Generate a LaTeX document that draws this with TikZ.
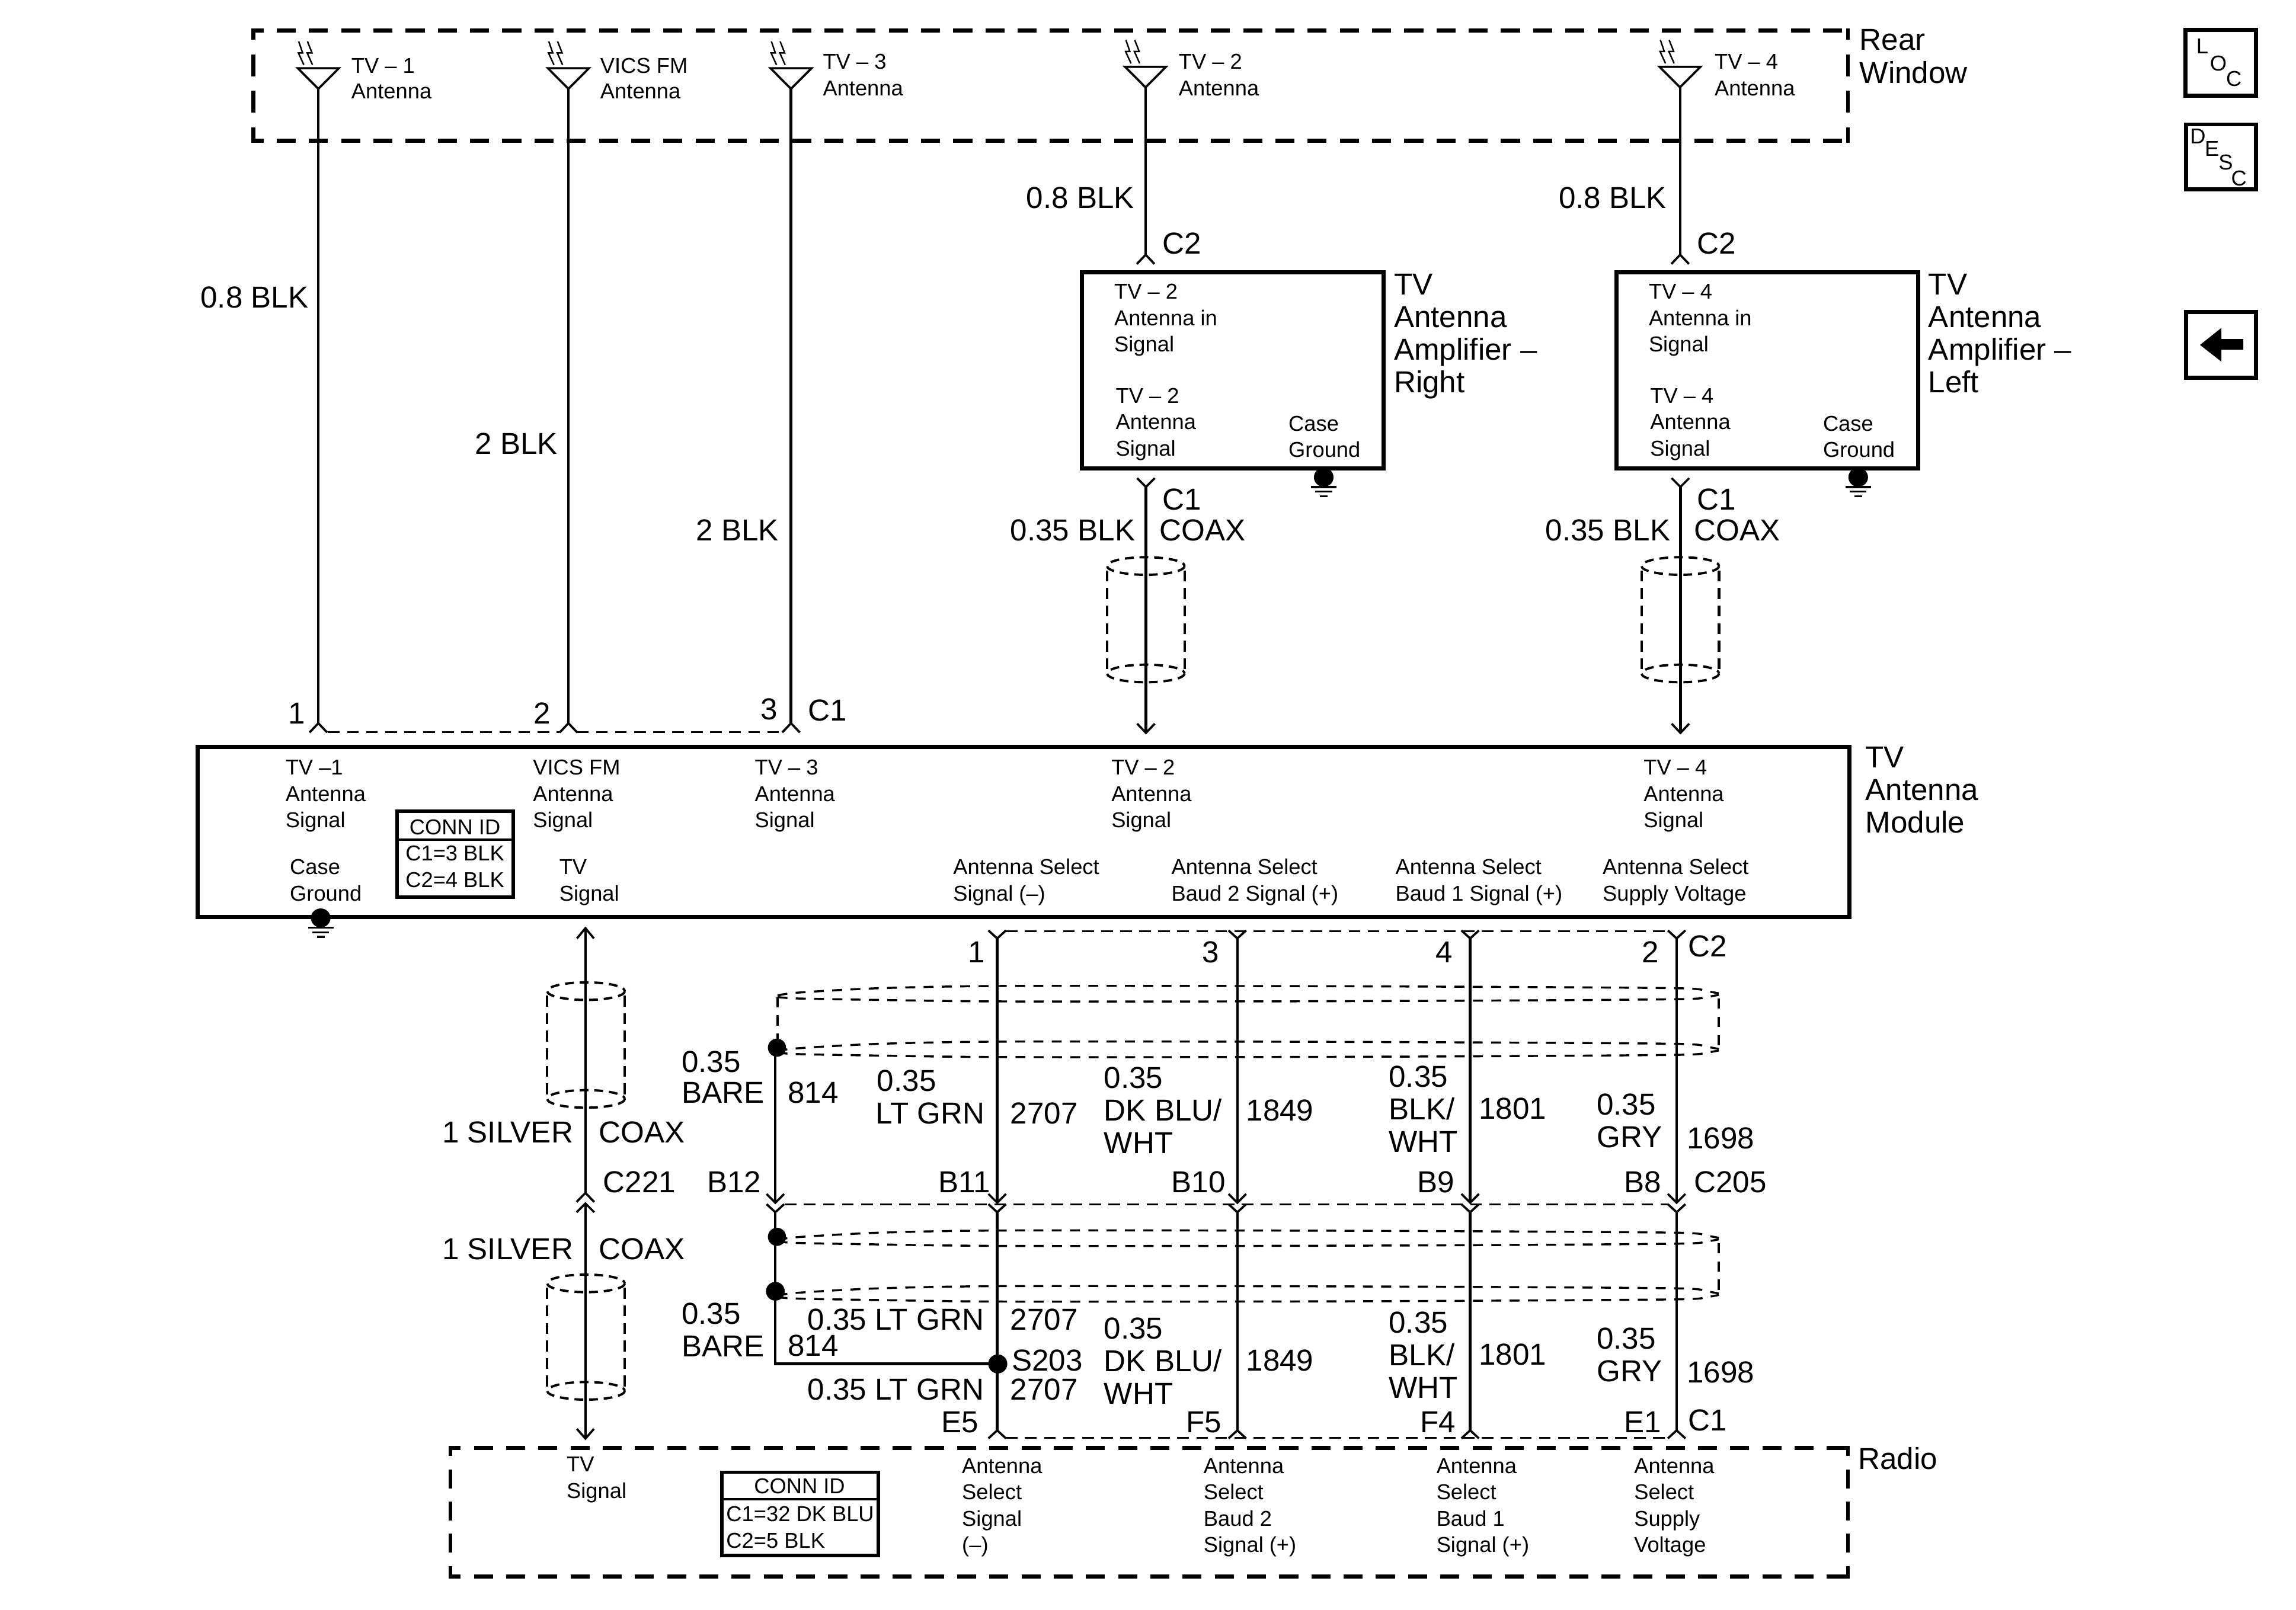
\documentclass[tikz,border=0pt]{standalone}
\usepackage{fontspec}
\setmainfont{Liberation Sans}
\newcommand\lblsmall{\fontsize{14.7}{18}\selectfont}
\newcommand\lbllarge{\fontsize{20.7}{23}\selectfont}
\newcounter{lblc}
% small text lines: x, y of first line centre, lines separated by commas
\newcommand\smalls[3]{\foreach \tx [count=\i from 0] in {#3}{\stepcounter{lblc}\node[smalltext] (s\arabic{lblc}) at (#1,{#2+5.3+\i*18}) {\tx};}}
\newcommand\larges[3]{\foreach \tx [count=\i from 0] in {#3}{\stepcounter{lblc}\node[largetext] (l\arabic{lblc}) at (#1,{#2+7.4+\i*22.3}) {\tx};}}
% open chevron: x, apex y, ends y
\newcommand\chev[3]{\draw[chevron] (#1-6,#3) -- (#1,#2) -- (#1+6,#3);}
% named wire between two named coordinates
\newcommand\wire[4]{\coordinate (#1a) at (#2,#3); \coordinate (#1b) at (#2,#4); \draw[wireline] (#1a) -- (#1b);}
% box node from corners
\newcommand\boxn[6]{\node[#1,minimum width={(#5-#3)*1pt},minimum height={(#6-#4)*1pt}] (#2) at ({(#3+#5)/2},{(#4+#6)/2}) {};}
\newcommand\gnd[2]{\fill (#1,#2) ellipse [x radius=6.7,y radius=6.5];
  \draw[gndbar] (#1-8.7,#2+6.7) -- (#1+8.7,#2+6.7);
  \draw[gndbar] (#1-5.7,#2+9.8) -- (#1+5.7,#2+9.8);
  \draw[gndbar] (#1-2.6,#2+12.9) -- (#1+2.6,#2+12.9);}
% antenna: x, y offset
\newcommand\antenna[2]{\begin{scope}[shift={(#1,#2)}]
  \draw[antline,line join=miter] (-14,46.6) -- (14,46.6) -- (0,60.7) -- cycle;
  \draw[boltline] (-13.4,28.3) -- (-10.7,36.2) -- (-13.6,36.2) -- (-9.9,44.3);
  \draw[boltline] (-7.4,28.3) -- (-4.3,36.2) -- (-7.6,36.2) -- (-4,44.3);
  \end{scope}}
% coax shield: x centre, y of top ellipse, y of bottom ellipse
\newcommand\coax[3]{\draw[shieldoval] (#1,#2) ellipse [x radius=26.5,y radius=6];
  \draw[shieldoval] (#1,#3) ellipse [x radius=26.5,y radius=6];
  \draw[shieldside] (#1-26.5,#2+3) -- (#1-26.5,#3-3);
  \draw[shieldside] (#1+26.5,#2+3) -- (#1+26.5,#3-3);}
% twisted pair shield lens
\newcommand\lens[1]{\begin{scope}[shift={(0,#1)}]
  \draw[pairline] plot[smooth] coordinates {(531,680) (545,678) (600,675) (681,673.5) (850,673.5) (1004,674) (1145,675) (1165,677) (1173.8,678.5)};
  \draw[pairline] plot[smooth] coordinates {(531,681) (545,682) (600,683) (681,684) (850,684) (1004,683.5) (1145,682.5) (1165,681) (1173.8,679.5)};
  \end{scope}}
\begin{document}
\begin{tikzpicture}[x=1pt,y=-1pt,
  smalltext/.style={anchor=base west,inner sep=0pt,outer sep=0pt,font=\lblsmall},
  largetext/.style={anchor=base west,inner sep=0pt,outer sep=0pt,font=\lbllarge},
  wireline/.style={line width=1.8pt},
  chevron/.style={line width=1.5pt,line join=miter},
  antline/.style={line width=1.5pt},
  boltline/.style={line width=1pt},
  gndbar/.style={line width=1.3pt},
  heavybox/.style={draw,line width=2.8pt,inner sep=0pt,outer sep=0pt},
  connbox/.style={draw,line width=2.4pt,inner sep=0pt,outer sep=0pt},
  bigdash/.style={line width=2.8pt,dash pattern=on 13pt off 9pt,dash phase=6pt},
  shieldoval/.style={line width=1.6pt,dash pattern=on 6pt off 4pt},
  shieldside/.style={line width=1.7pt,dash pattern=on 7.5pt off 4.5pt},
  pairline/.style={line width=1.4pt,dash pattern=on 6.8pt off 5.7pt},
  thindash/.style={line width=1.3pt,dash pattern=on 8pt off 5pt},
]
\useasboundingbox (0,0) rectangle (1568,1099.7);

% --- Rear Window dashed box
\draw[bigdash] (173,21) -- (1262,21);
\draw[bigdash] (173,96) -- (1262,96);
\draw[line width=2.8pt,dash pattern=on 15pt off 10pt,dash phase=7.5pt] (173,19.6) -- (173,97.4);
\draw[line width=2.8pt,dash pattern=on 15pt off 10pt,dash phase=7.5pt] (1262,19.6) -- (1262,97.4);
\larges{1270}{27}{Rear,Window}

% --- Antennas
\antenna{217.4}{0}\antenna{388.2}{0}\antenna{540.2}{0}\antenna{782.3}{-1}\antenna{1147.3}{-1}
\smalls{240}{44.6}{TV – 1}\smalls{240}{62}{Antenna}
\smalls{410}{44.6}{VICS FM}\smalls{410}{62}{Antenna}
\smalls{562}{42}{TV – 3,Antenna}
\smalls{805}{42}{TV – 2,Antenna}
\smalls{1171}{42}{TV – 4,Antenna}

% --- Wires to module
\wire{wa}{217.4}{60}{494}
\wire{wb}{388.2}{60}{494}
\wire{wc}{540.2}{60}{494}
\chev{217.4}{494}{500.3}\chev{388.2}{494}{500.3}\chev{540.2}{494}{500.3}
\draw[thindash] (224,500) -- (382,500);
\draw[thindash] (394,500) -- (534,500);
\larges{137}{203}{0.8 BLK}
\larges{324.5}{303}{2 BLK}
\larges{475.5}{362}{2 BLK}
\larges{197}{487}{1}
\larges{364.5}{487}{2}
\larges{519.5}{484}{3}
\larges{552}{485}{C1}

% --- Amplifiers
\boxn{heavybox}{ampR}{739}{186}{945}{320}
\boxn{heavybox}{ampL}{1104}{186}{1310}{320}
\foreach \dx/\nm in {0/r,365/l}{
  \wire{top\nm}{782.4+\dx}{59}{174}
  \chev{782.4+\dx}{174}{180.3}
  \chev{782.6+\dx}{332.6}{326.6}
  \wire{bot\nm}{782.6+\dx}{332.6}{500.6}
  \chev{782.6+\dx}{500.6}{494.3}
  \coax{782.5+\dx}{386.6}{460}
  \gnd{904+\dx}{326}
}
\larges{701}{135}{0.8 BLK}\larges{1064.5}{135}{0.8 BLK}
\larges{794}{166}{C2}\larges{1159}{166}{C2}
\larges{794}{341}{C1}\larges{1159}{341}{C1}
\larges{792}{362}{COAX}\larges{1157}{362}{COAX}
\larges{690}{362}{0.35 BLK}\larges{1055.5}{362}{0.35 BLK}
\larges{952}{194}{TV,Antenna,Amplifier –,Right}
\larges{1317}{194}{TV,Antenna,Amplifier –,Left}
\smalls{761}{199}{TV – 2,Antenna in,Signal}
\smalls{762}{270}{TV – 2,Antenna,Signal}
\smalls{880}{289}{Case,Ground}
\smalls{1126}{199}{TV – 4,Antenna in,Signal}
\smalls{1127}{270}{TV – 4,Antenna,Signal}
\smalls{1245}{289}{Case,Ground}

% --- Module
\boxn{heavybox}{module}{135}{510}{1263}{626.5}
\gnd{219}{627}
\larges{1274}{517}{TV,Antenna,Module}
\smalls{195}{524}{TV –1,Antenna,Signal}
\smalls{364}{524}{VICS FM,Antenna,Signal}
\smalls{515.5}{524}{TV – 3,Antenna,Signal}
\smalls{759}{524}{TV – 2,Antenna,Signal}
\smalls{1122.5}{524}{TV – 4,Antenna,Signal}
\smalls{198}{592}{Case,Ground}
\smalls{382}{592}{TV,Signal}
\smalls{651}{592}{Antenna Select,Signal (–)}
\smalls{800}{592}{Antenna Select,Baud 2 Signal (+)}
\smalls{953}{592}{Antenna Select,Baud 1 Signal (+)}
\smalls{1094.5}{592}{Antenna Select,Supply Voltage}
% conn id 1
\boxn{connbox}{connA}{271}{554}{350.5}{612.6}
\draw[line width=1.6pt] (271,573.5) -- (350.5,573.5);
\node[font=\lblsmall,inner sep=0pt] (connAt) at (310.7,565) {CONN ID};
\node[font=\lblsmall,inner sep=0pt] (connAu) at (310.7,583) {C1=3 BLK};
\node[font=\lblsmall,inner sep=0pt] (connAv) at (310.7,601) {C2=4 BLK};

% --- Shield lenses
\lens{0}\lens{38}\lens{167}\lens{205}
\draw[line width=1.7pt,dash pattern=on 7pt off 5.5pt] (531,681) -- (531,710);
\draw[line width=1.9pt,dash pattern=on 7pt off 5.5pt,dash phase=-3pt] (1173.8,679) -- (1173.8,717);
\draw[line width=1.9pt,dash pattern=on 7pt off 5.5pt,dash phase=-3pt] (1173.8,846) -- (1173.8,884);

% --- Coax TV signal
\wire{cxa}{399.8}{634}{814.8}
\draw[chevron] (394,641) -- (399.8,634) -- (405.6,641);
\chev{399.8}{814.8}{821}
\chev{399.8}{822}{828}
\wire{cxb}{399.8}{822}{982.6}
\draw[chevron] (394,976) -- (399.8,982.6) -- (405.6,976);
\coax{400.2}{677}{750.6}
\coax{400.2}{876.6}{950}
\larges{302}{773}{1 SILVER}\larges{409}{773}{COAX}
\larges{412}{807}{C221}
\larges{302}{853}{1 SILVER}\larges{409}{853}{COAX}

% --- Select wires
\foreach \xx/\nm in {681/p,845/q,1004/r,1145/s}{
  \wire{up\nm}{\xx}{641}{821.5}
  \chev{\xx}{641}{635.5}
  \chev{\xx}{821.5}{815.5}
  \chev{\xx}{828}{822.5}
  \wire{lo\nm}{\xx}{828}{977}
  \chev{\xx}{977}{982.5}
}
\draw[thindash] (687,636) -- (1139,636);
\draw[thindash] (536,822.7) -- (1139,822.7);
\draw[thindash] (687,982) -- (1139,982);

% --- 814 drain
\coordinate (drA) at (529.5,715.6);
\coordinate (drTop) at (529.5,821.5);
\coordinate (drY) at (529.5,828);
\coordinate (drCorner) at (529.5,931.6);
\coordinate (dotS) at (681.4,931.6);
\draw[wireline] (drA) -- (drTop);
\chev{529.5}{821.5}{815.5}
\chev{529.5}{828}{822.5}
\draw[wireline] (drY) -- (drCorner) -- (dotS);
\fill (530.6,715.6) circle [radius=6.2];
\fill (530.6,844.8) circle [radius=6.2];
\fill (529.5,882) circle [radius=6.4];
\fill (dotS) circle [radius=6.5];

% --- Wire labels upper
\larges{465.5}{725}{0.35}\larges{465.5}{746}{BARE}
\larges{538}{746}{814}
\larges{599}{738}{0.35}\larges{598}{760}{LT GRN}
\larges{690}{760}{2707}
\larges{754}{736}{0.35,DK BLU/,WHT}
\larges{851}{758}{1849}
\larges{948.5}{735}{0.35,BLK/,WHT}
\larges{1010}{757}{1801}
\larges{1090.5}{754}{0.35,GRY}
\larges{1152}{777}{1698}
\larges{483}{807}{B12}\larges{641}{807}{B11}\larges{800}{807}{B10}
\larges{968}{807}{B9}\larges{1109}{807}{B8}\larges{1157}{807}{C205}
\larges{661}{650}{1}\larges{821}{650}{3}\larges{980.5}{650}{4}\larges{1121.5}{650}{2}
\larges{1153}{646}{C2}

% --- Wire labels lower
\larges{465.5}{897}{0.35,BARE}
\larges{538}{919}{814}
\larges{551.5}{901}{0.35 LT GRN}\larges{690}{901}{2707}
\larges{754}{907}{0.35,DK BLU/,WHT}
\larges{851}{929}{1849}
\larges{948.5}{903}{0.35,BLK/,WHT}
\larges{1010}{925}{1801}
\larges{1090.5}{914}{0.35,GRY}
\larges{1152}{937}{1698}
\larges{691}{929}{S203}
\larges{551.5}{949}{0.35 LT GRN}\larges{690}{949}{2707}
\larges{643}{971}{E5}\larges{810}{971}{F5}\larges{970}{971}{F4}\larges{1109}{971}{E1}
\larges{1153}{970}{C1}

% --- Radio
\draw[bigdash] (307.6,989) -- (1262,989);
\draw[bigdash] (307.6,1077) -- (1262,1077);
\draw[bigdash] (307.6,987.6) -- (307.6,1078.4);
\draw[bigdash] (1262,987.6) -- (1262,1078.4);
\larges{1269}{996}{Radio}
\smalls{387}{1000}{TV,Signal}
\smalls{657}{1001}{Antenna,Select,Signal,(–)}
\smalls{822}{1001}{Antenna,Select,Baud 2,Signal (+)}
\smalls{981}{1001}{Antenna,Select,Baud 1,Signal (+)}
\smalls{1116}{1001}{Antenna,Select,Supply,Voltage}
\boxn{connbox}{connB}{493}{1005.6}{600}{1062.6}
\draw[line width=1.6pt] (493,1024) -- (600,1024);
\node[font=\lblsmall,inner sep=0pt] (connBt) at (546,1015) {CONN ID};
\smalls{496}{1034}{C1=32 DK BLU,C2=5 BLK}

% --- Side icons
\boxn{heavybox}{locbox}{1492.5}{20.5}{1540.5}{65.5}
\node[font=\lblsmall,inner sep=0pt] (locL) at (1504,31.7) {L};
\node[font=\lblsmall,inner sep=0pt] (locO) at (1515,43.5) {O};
\node[font=\lblsmall,inner sep=0pt] (locC) at (1525.6,54) {C};
\boxn{heavybox}{descbox}{1493}{85}{1540.5}{129.5}
\node[font=\lblsmall,inner sep=0pt] (descD) at (1501,93) {D};
\node[font=\lblsmall,inner sep=0pt] (descE) at (1510.6,101.6) {E};
\node[font=\lblsmall,inner sep=0pt] (descS) at (1520,111) {S};
\node[font=\lblsmall,inner sep=0pt] (descC) at (1529,122) {C};
\boxn{heavybox}{backbox}{1493}{213}{1540.5}{258}
\fill (1502.4,235.6) -- (1517,224) -- (1517,231.6) -- (1532,231.6) -- (1532,239) -- (1517,239) -- (1517,247) -- cycle;
\end{tikzpicture}
\end{document}
